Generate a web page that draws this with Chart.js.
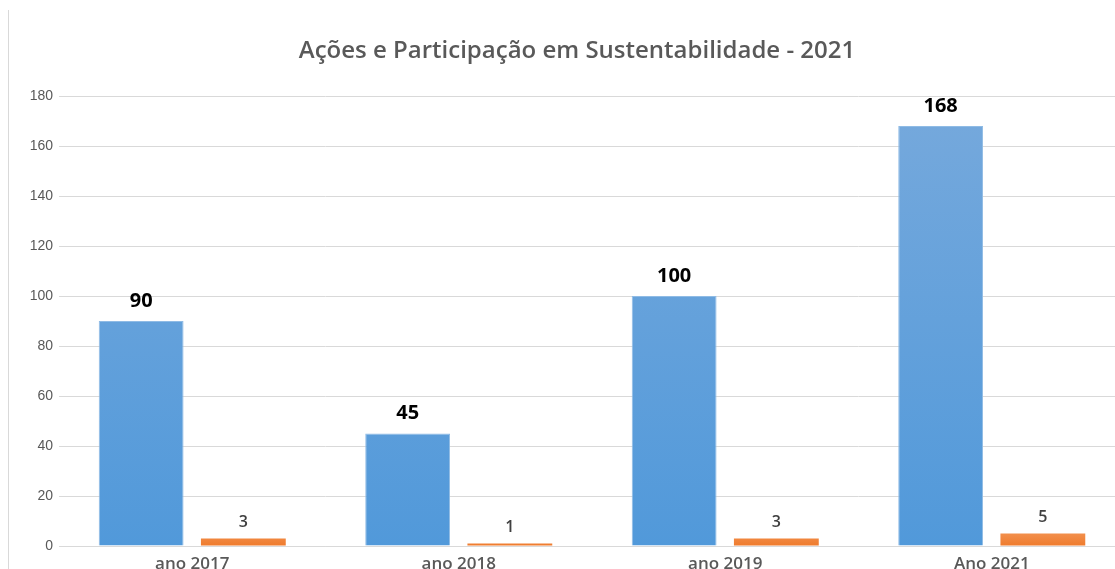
<!DOCTYPE html>
<html>
<head>
<meta charset="utf-8">
<script src="https://cdn.jsdelivr.net/npm/chart.js@4.4.1/dist/chart.umd.min.js"></script>
<style>
  html, body { margin: 0; padding: 0; background: #fff; }
  #wrap { position: relative; width: 1115px; height: 569px; overflow: hidden; }
  #edge { position: absolute; left: 8px; top: 10px; bottom: 0; border-left: 1px solid #d9d9d9; }
  #chartSust { position: absolute; left: 0; top: 0; }
</style>
</head>
<body>
<div id="wrap">
  <div id="edge"></div>
  <canvas id="chartSust" width="1125" height="590" style="width:1125px;height:590px"></canvas>
</div>
<script>
const TITLE = "Ações e Participação em Sustentabilidade - 2021";
const categories = ["ano 2017", "ano 2018", "ano 2019", "Ano 2021"];
const acoes = [90, 45, 100, 168];
const participacao = [3, 1, 3, 5];
const yTicks = [0, 20, 40, 60, 80, 100, 120, 140, 160, 180];

const COLORS = {
  blueTop: "#74a8dc",
  blueBottom: "#5199da",
  blueEdge: "#8fbbe5",
  orangeTop: "#f28f4c",
  orangeBottom: "#ef7c2e",
  ink: "#595959",
  rule: "#d9d9d9",
};

// per-bar vertical gradient, like the office chart
const barGradient = {
  id: "barGradient",
  beforeDatasetsDraw(chart) {
    const ctx = chart.ctx;
    chart.data.datasets.forEach((ds, i) => {
      const meta = chart.getDatasetMeta(i);
      meta.data.forEach((bar) => {
        const g = ctx.createLinearGradient(0, bar.y, 0, bar.base);
        g.addColorStop(0, ds.gradTop);
        g.addColorStop(1, ds.gradBottom);
        bar.options.backgroundColor = g;
      });
    });
  }
};

// value labels above each bar
const valueLabels = {
  id: "valueLabels",
  afterDatasetsDraw(chart) {
    const ctx = chart.ctx;
    ctx.save();
    ctx.textAlign = "center";
    ctx.textBaseline = "middle";
    chart.data.datasets.forEach((ds, i) => {
      const meta = chart.getDatasetMeta(i);
      ctx.font = ds.labelFont;
      ctx.fillStyle = ds.labelColor;
      meta.data.forEach((bar, j) => {
        ctx.fillText(String(ds.data[j]), bar.x, bar.y - ds.labelGap);
      });
    });
    ctx.restore();
  }
};

const chartTitle = {
  id: "chartTitle",
  afterDraw(chart) {
    const ctx = chart.ctx;
    ctx.save();
    ctx.font = "600 24px 'Open Sans'";
    ctx.fillStyle = COLORS.ink;
    ctx.textAlign = "center";
    ctx.textBaseline = "middle";
    ctx.fillText(TITLE, 577, 51);
    ctx.restore();
  }
};

const canvas = document.getElementById("chartSust");
new Chart(canvas.getContext("2d"), {
  type: "bar",
  data: {
    labels: categories,
    datasets: [
      {
        label: "Ações",
        data: acoes,
        backgroundColor: COLORS.blueBottom,
        borderColor: COLORS.blueEdge,
        borderWidth: 1,
        gradTop: COLORS.blueTop,
        gradBottom: COLORS.blueBottom,
        labelFont: "700 20px 'Open Sans'",
        labelColor: "#000000",
        labelGap: 20,
      },
      {
        label: "Participação",
        data: participacao,
        backgroundColor: COLORS.orangeBottom,
        borderWidth: 0,
        gradTop: COLORS.orangeTop,
        gradBottom: COLORS.orangeBottom,
        labelFont: "600 16px 'Open Sans'",
        labelColor: "#404040",
        labelGap: 16,
      }
    ]
  },
  options: {
    responsive: false,
    animation: false,
    categoryPercentage: 0.767,
    barPercentage: 0.83,
    layout: { padding: { top: 96, left: 10, right: 0, bottom: 0 } },
    plugins: {
      legend: { display: false },
      title: { display: false },
      tooltip: { enabled: false }
    },
    scales: {
      x: {
        grid: { display: false },
        border: { color: COLORS.rule },
        ticks: {
          color: COLORS.ink,
          font: { family: "'Open Sans'", size: 17, weight: "600" },
          padding: 0,
        },
        afterFit: (scale) => { scale.height = 44; }
      },
      y: {
        min: 0,
        max: 180,
        afterBuildTicks: (scale) => { scale.ticks = yTicks.map(v => ({ value: v })); },
        grid: { color: COLORS.rule, drawTicks: false },
        border: { display: false },
        ticks: {
          color: COLORS.ink,
          font: { family: "'Liberation Sans'", size: 14 },
          padding: 6,
        },
        afterFit: (scale) => { scale.width = 49; }
      }
    }
  },
  plugins: [barGradient, valueLabels, chartTitle]
});
</script>
</body>
</html>
